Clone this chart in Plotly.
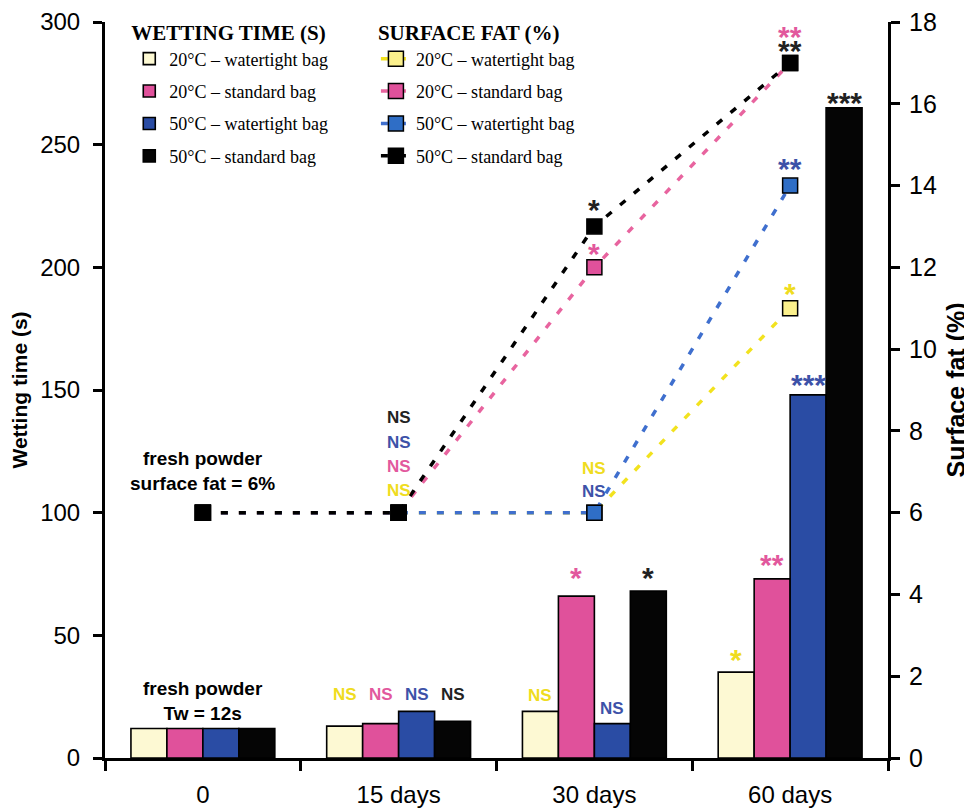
import plotly.graph_objects as go

# ---------------- data ----------------
categories = ["0", "15 days", "30 days", "60 days"]
series_names = ["20°C – watertight bag", "20°C – standard bag",
                "50°C – watertight bag", "50°C – standard bag"]

wet_20_watertight = [12, 13, 19, 35]
wet_20_standard = [12, 14, 66, 73]
wet_50_watertight = [12, 19, 14, 148]
wet_50_standard = [12, 15, 68, 265]

fat_20_watertight = [6, 6, 6, 11]
fat_20_standard = [6, 6, 12, 17]
fat_50_watertight = [6, 6, 6, 14]
fat_50_standard = [6, 6, 13, 17]

wet_ticks = [0, 50, 100, 150, 200, 250, 300]
fat_ticks = [0, 2, 4, 6, 8, 10, 12, 14, 16, 18]

# significance labels above bars (per category, per series)
wet_sig_15 = ["NS", "NS", "NS", "NS"]
wet_sig_30 = ["NS", "*", "NS", "*"]
wet_sig_60 = ["*", "**", "***", "***"]

# significance labels above surface-fat markers
fat_sig_30 = [None, "*", None, "*"]
fat_sig_60 = ["*", "**", "**", "**"]

# ---------------- styles ----------------
bar_colors = ["#fdf9d3", "#e0519b", "#2a4ca4", "#050505"]
line_colors = ["#f2e21e", "#e8649f", "#3f6fce", "#000000"]
marker_colors = ["#fbf08c", "#e0519b", "#2f6ec6", "#000000"]
text_colors = ["#efdc20", "#e2589d", "#3d52a8", "#222222"]

wet = [wet_20_watertight, wet_20_standard, wet_50_watertight, wet_50_standard]
fat = [fat_20_watertight, fat_20_standard, fat_50_watertight, fat_50_standard]

SANS = "Liberation Sans, Arial, sans-serif"
SERIF = "Liberation Serif, Times New Roman, serif"
BARGAP = 0.265
STAR = 30

fig = go.Figure()

for i in range(4):
    fig.add_trace(go.Bar(
        x=categories, y=wet[i], name=series_names[i],
        marker=dict(color=bar_colors[i], line=dict(color="black", width=1.6)),
        legend="legend", legendgroup="w%d" % i,
        xaxis="x", yaxis="y",
    ))

for i in range(4):
    fig.add_trace(go.Scatter(
        x=categories, y=fat[i], name=series_names[i],
        mode="lines+markers",
        line=dict(color=line_colors[i], width=3.5, dash="7px,11px"),
        marker=dict(symbol="square", size=15, color=marker_colors[i],
                    line=dict(color="black", width=1.5)),
        legend="legend2", legendgroup="f%d" % i,
        xaxis="x", yaxis="y2",
    ))

# ---------------- annotations ----------------
ann = []
bw = (1 - BARGAP) / 4


def bar_off(i):
    return -(1 - BARGAP) / 2 + (i + 0.5) * bw


def add(x, y, text, color, yref="y", size=17, yshift=0, yanchor="bottom", xshift=0):
    ann.append(dict(x=x, y=y, xref="x", yref=yref, text="<b>%s</b>" % text,
                    showarrow=False, yanchor=yanchor, xanchor="center",
                    yshift=yshift, xshift=xshift,
                    font=dict(family=SANS, size=size, color=color)))


# bars, 15 days: all at same height
top15 = max(w[1] for w in wet)
for i in range(4):
    add(1 + bar_off(i), top15, wet_sig_15[i], text_colors[i], yshift=5)
star_shift_30 = [0, 0, 0, -5]
for i in range(4):
    lab = wet_sig_30[i]
    if lab.startswith("*"):
        add(2 + bar_off(i), wet[i][2], lab, text_colors[i], size=STAR,
            yshift=star_shift_30[i])
    else:
        add(2 + bar_off(i), wet[i][2], lab, text_colors[i], yshift=4)
star_shift_60 = [-6, -4, -8, -13]
for i in range(4):
    add(3 + bar_off(i), wet[i][3], wet_sig_60[i], text_colors[i], size=STAR,
        yshift=star_shift_60[i])

# surface fat stars
fat_star_shift_30 = [0, -5, 0, -2]
for i in range(4):
    if fat_sig_30[i]:
        add(2, fat[i][2], fat_sig_30[i], text_colors[i], yref="y2", size=STAR,
            yshift=fat_star_shift_30[i])
fat_star_shift_60 = [-4, 8, -1, -6]
for i in range(4):
    add(3, fat[i][3], fat_sig_60[i], text_colors[i], yref="y2", size=STAR,
        yshift=fat_star_shift_60[i])

# NS stacks on the surface-fat lines
ns15_shift = [22, 46, 70, 95]
for i in range(4):
    add(1, fat[i][1], "NS", text_colors[i], yref="y2", yanchor="middle",
        yshift=ns15_shift[i])
add(2, fat[0][2], "NS", text_colors[0], yref="y2", yanchor="middle", yshift=44)
add(2, fat[2][2], "NS", text_colors[2], yref="y2", yanchor="middle", yshift=21)

# fresh powder notes
add(0, fat[3][0], "fresh powder<br>surface fat = 6%", "black", yref="y2",
    size=19, yanchor="middle", yshift=42)
add(0, max(w[0] for w in wet), "fresh powder<br>Tw = 12s", "black",
    size=19, yanchor="middle", yshift=28)

axis_common = dict(showgrid=False, zeroline=False, showline=True, linecolor="black",
                   linewidth=3, ticks="outside", tickcolor="black", tickwidth=2.5,
                   automargin=False, ticklabeloverflow="allow")

fig.update_layout(
    width=964, height=802,
    margin=dict(l=97, r=84, t=14, b=52, autoexpand=False),
    paper_bgcolor="white", plot_bgcolor="white",
    barmode="group", bargap=BARGAP, bargroupgap=0,
    font=dict(family=SANS, color="black"),
    xaxis=dict(type="category", categoryorder="array", categoryarray=categories,
               range=[-0.5, 3.5], tickson="boundaries", ticklen=10,
               tickfont=dict(family=SANS, size=24), ticklabelstandoff=13,
               **axis_common),
    xaxis2=dict(overlaying="x", anchor="y", range=[-0.5, 3.5], showgrid=False,
                zeroline=False, showline=False, ticks="inside", ticklen=9,
                tickwidth=2.5, tickcolor="black", showticklabels=False,
                tickmode="array", tickvals=[-0.5, 0.5, 1.5, 2.5, 3.5]),
    yaxis=dict(range=[0, 300], tickmode="array", tickvals=wet_ticks, ticklen=9,
               tickfont=dict(family=SANS, size=24), ticklabelstandoff=8,
               title=dict(text="<b>Wetting time (s)</b>",
                          font=dict(family=SANS, size=21), standoff=9),
               **axis_common),
    yaxis2=dict(overlaying="y", side="right", anchor="x", range=[0, 18],
                tickmode="array", tickvals=fat_ticks,
                ticklen=9, tickfont=dict(family=SANS, size=25), ticklabelstandoff=4,
                title=dict(text="<b>Surface fat (%)</b>",
                           font=dict(family=SANS, size=25), standoff=12),
                **axis_common),
    yaxis3=dict(overlaying="y", side="left", anchor="x", range=[0, 300],
                tickmode="array", tickvals=wet_ticks,
                showgrid=False, zeroline=False, showline=False, ticks="inside",
                ticklen=6, tickwidth=2.5, tickcolor="black", showticklabels=False),
    yaxis4=dict(overlaying="y", side="right", anchor="x", range=[0, 18],
                tickmode="array", tickvals=fat_ticks,
                showgrid=False, zeroline=False, showline=False, ticks="inside",
                ticklen=6, tickwidth=2.5, tickcolor="black", showticklabels=False),
    legend=dict(title=dict(text="<b>WETTING TIME (S)</b>",
                           font=dict(family=SERIF, size=21)),
                font=dict(family=SERIF, size=18), x=0.031, y=1.012,
                xanchor="left", yanchor="top", bgcolor="rgba(0,0,0,0)",
                tracegroupgap=6),
    legend2=dict(title=dict(text="<b>SURFACE FAT (%)</b>",
                            font=dict(family=SERIF, size=21)),
                 font=dict(family=SERIF, size=18), x=0.346, y=1.012,
                 xanchor="left", yanchor="top", bgcolor="rgba(0,0,0,0)",
                 tracegroupgap=6),
    annotations=ann,
    showlegend=True,
)

fig.write_html("out.html")
